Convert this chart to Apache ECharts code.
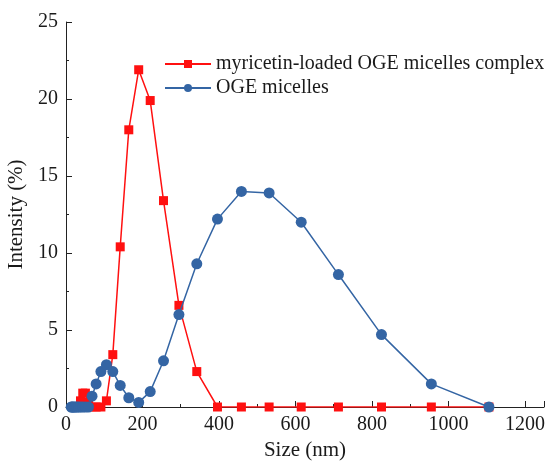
<!DOCTYPE html>
<html>
<head>
<meta charset="utf-8">
<script src="https://cdn.jsdelivr.net/npm/echarts@6/dist/echarts.min.js"></script>
<style>
  html, body { margin: 0; padding: 0; background: #fff; }
  #chart { width: 548px; height: 463px; }
</style>
</head>
<body>
<div id="chart"></div>
<script>
// size bins (nm) and intensity (%)
const complexSize = [32.67, 37.84, 43.82, 50.75, 58.77, 68.06, 78.82, 91.28, 105.7, 122.4, 141.8, 164.2, 190.1, 220.2, 255.0, 295.3, 342.0, 396.1, 458.7, 531.2, 615.1, 712.4, 825.0, 955.4, 1106];
const complexValue = [0, 0.4, 0.9, 0.9, 0.3, 0, 0, 0, 0.4, 3.4, 10.4, 18.0, 21.9, 19.9, 13.4, 6.6, 2.3, 0, 0, 0, 0, 0, 0, 0, 0];

const micelleSize = [13.54, 15.69, 18.17, 21.04, 24.36, 28.21, 32.67, 37.84, 43.82, 50.75, 58.77, 68.06, 78.82, 91.28, 105.7, 122.4, 141.8, 164.2, 190.1, 220.2, 255.0, 295.3, 342.0, 396.1, 458.7, 531.2, 615.1, 712.4, 825.0, 955.4, 1106];
const micelleValue = [0, 0, 0, 0, 0, 0, 0, 0, 0, 0, 0, 0.7, 1.5, 2.3, 2.75, 2.3, 1.4, 0.6, 0.3, 1.0, 3.0, 6.0, 9.3, 12.2, 14.0, 13.9, 12.0, 8.6, 4.7, 1.5, 0];

const xTicks = [0, 200, 400, 600, 800, 1000, 1200];
const yTicks = [0, 5, 10, 15, 20, 25];

const seriesNames = ['myricetin-loaded OGE micelles complex', 'OGE micelles'];

const font = '"Liberation Serif", "DejaVu Serif", serif';
const textColor = '#1a1a1a';

const chart = echarts.init(document.getElementById('chart'));

const axisCommon = {
  axisLine: { show: true, lineStyle: { color: '#222', width: 1 } },
  axisTick: { show: true, inside: true, length: 6, lineStyle: { color: '#222' } },
  minorTick: { show: true, splitNumber: 2, length: 3, lineStyle: { color: '#222' } },
  splitLine: { show: false },
  nameTextStyle: { fontFamily: font, fontSize: 21, color: textColor },
};

// only show the listed tick labels (the axis runs a bit past the last one)
const labelFor = ticks => v => (ticks.indexOf(v) >= 0 ? String(v) : '');

chart.setOption({
  animation: false,
  backgroundColor: '#fff',
  grid: { left: 66, right: 4, top: 22, bottom: 56, outerBoundsMode: 'none', containLabel: false },
  legend: {
    data: seriesNames,
    orient: 'vertical',
    left: 159,
    top: 49,
    itemWidth: 46,
    itemHeight: 10,
    itemGap: 4,
    textStyle: { fontFamily: font, fontSize: 20, color: textColor }
  },
  xAxis: Object.assign({}, axisCommon, {
    type: 'value',
    min: 0,
    max: 1250,
    interval: 200,
    name: 'Size (nm)',
    nameLocation: 'middle',
    nameGap: 32,
    axisLabel: {
      formatter: labelFor(xTicks),
      showMaxLabel: false,
      margin: 8,
      fontFamily: font, fontSize: 20, color: textColor
    }
  }),
  yAxis: Object.assign({}, axisCommon, {
    type: 'value',
    min: 0,
    max: 25,
    interval: 5,
    name: 'Intensity (%)',
    nameLocation: 'middle',
    nameGap: 24,
    axisLabel: {
      formatter: labelFor(yTicks),
      margin: 8,
      fontFamily: font, fontSize: 20, color: textColor
    }
  }),
  series: [
    {
      name: seriesNames[0],
      type: 'line',
      data: complexSize.map((s, i) => [s, complexValue[i]]),
      symbol: 'rect',
      symbolSize: 9,
      lineStyle: { color: '#ff1010', width: 1.5 },
      itemStyle: { color: '#ff1010' },
      z: 2
    },
    {
      name: seriesNames[1],
      type: 'line',
      data: micelleSize.map((s, i) => [s, micelleValue[i]]),
      symbol: 'circle',
      symbolSize: 11,
      lineStyle: { color: '#3465a4', width: 1.5 },
      itemStyle: { color: '#3465a4' },
      z: 3
    }
  ]
});
</script>
</body>
</html>
